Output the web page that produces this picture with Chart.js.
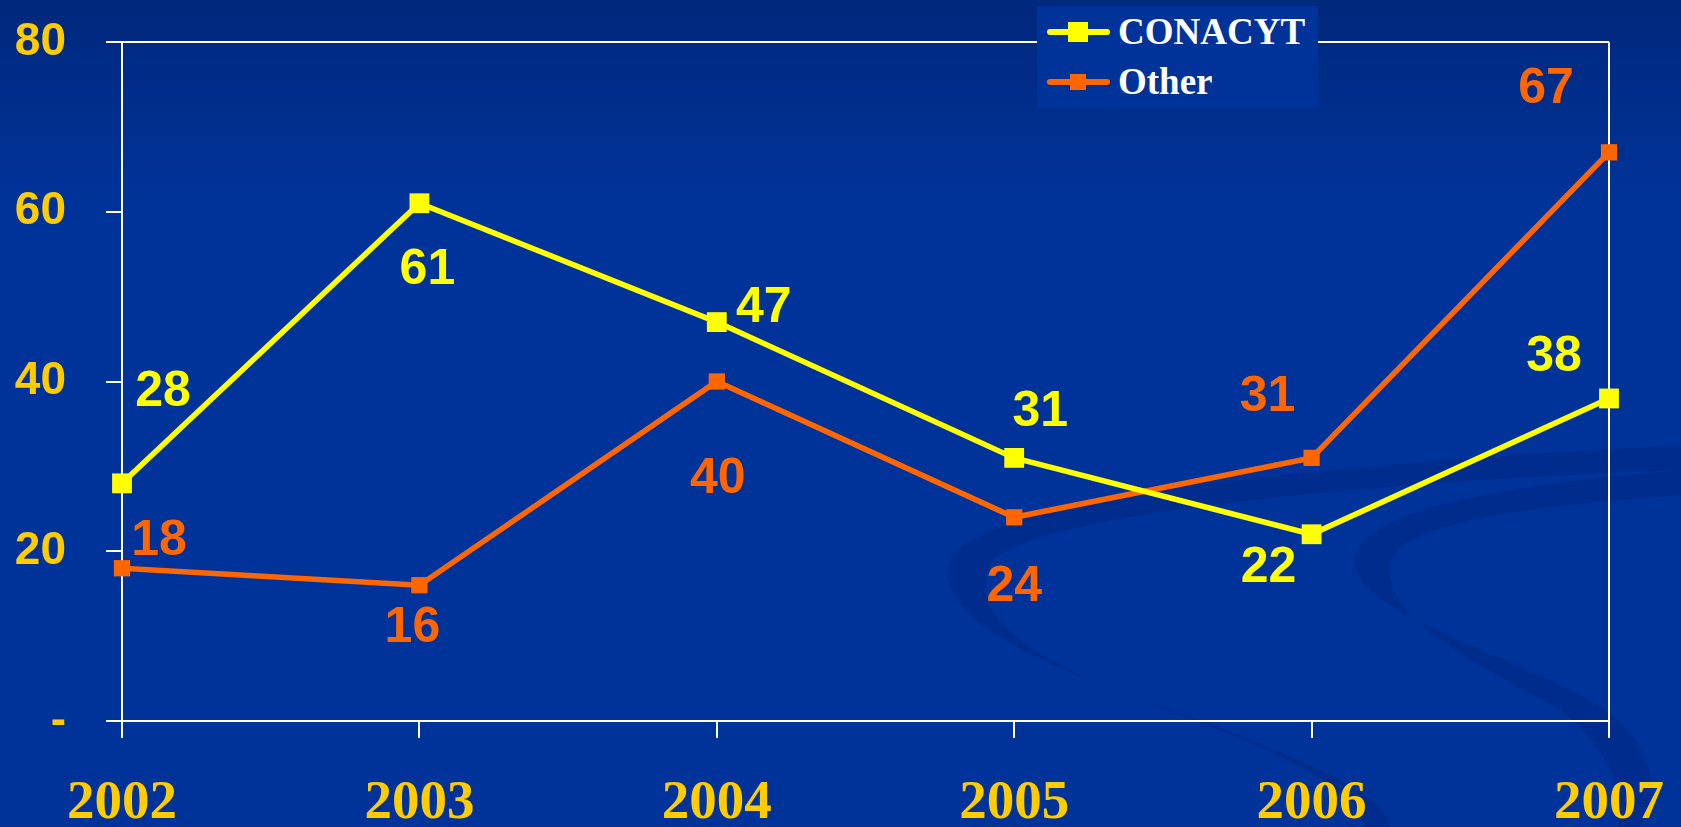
<!DOCTYPE html>
<html lang="en">
<head>
<meta charset="UTF-8" />
<title>CONACYT vs Other</title>
<style>
  html, body { margin: 0; padding: 0; }
  body { width: 1681px; height: 827px; overflow: hidden; background: #003399; }
  #wrap { position: relative; width: 1681px; height: 827px; }
  #legend {
    position: absolute; left: 1037px; top: 6px; width: 281px; height: 102px;
    background: #003399;
    font-family: "Liberation Serif", "Times New Roman", serif;
    font-weight: bold; font-size: 37px; color: #fff;
  }
  .item { position: absolute; left: 0; height: 50px; width: 281px; }
  .item .ln { position: absolute; left: 10px; top: 22px; width: 63px; height: 6px; border-radius: 3px; }
  .item .mk { position: absolute; }
  .item .tx { position: absolute; left: 81px; top: 3px; line-height: 44px; }
</style>
<script src="https://cdn.jsdelivr.net/npm/chart.js"></script>
</head>
<body>
<div id="wrap">
  <canvas id="chart" width="1681" height="827"></canvas>
  <div id="legend"></div>
</div>

<script>
  const years = ["2002", "2003", "2004", "2005", "2006", "2007"];
  const seriesNames = ["CONACYT", "Other"];
  const conacyt = [28, 61, 47, 31, 22, 38];
  const other = [18, 16, 40, 24, 31, 67];
  const yTicks = [0, 20, 40, 60, 80];

  const colors = ["#FFFF00", "#FF6600"];
  // where each value label sits relative to its point (px)
  const labelOffsets = [
    [[41, -91], [8, 67], [47, -14], [26, -46], [-43, 34], [-55, -41]],
    [[37, -27], [-7, 43], [1, 98], [0, 70], [-44, -61], [-63, -63]]
  ];

  // legend (html)
  const legend = document.getElementById("legend");
  seriesNames.forEach((name, i) => {
    const row = document.createElement("div");
    row.className = "item";
    row.style.top = (i * 50 + 1) + "px";
    const side = i === 0 ? 20 : 16;
    row.innerHTML =
      '<div class="ln" style="background:' + colors[i] + '"></div>' +
      '<div class="mk" style="background:' + colors[i] + ';width:' + side + 'px;height:' + side +
      'px;left:' + (41 - side / 2) + 'px;top:' + (25 - side / 2) + 'px"></div>' +
      '<div class="tx">' + name + '</div>';
    legend.appendChild(row);
  });

  const background = {
    id: "background",
    beforeDraw(chart) {
      const ctx = chart.ctx;
      ctx.save();
      const g = ctx.createLinearGradient(0, 0, 0, 200);
      g.addColorStop(0, "#00287c");
      g.addColorStop(1, "#003399");
      ctx.fillStyle = g;
      ctx.fillRect(0, 0, chart.width, chart.height);

      ctx.fillStyle = "rgba(0, 28, 110, 0.28)";
      // swoosh A
      ctx.beginPath();
      ctx.moveTo(1681, 445);
      ctx.bezierCurveTo(1300, 465, 980, 500, 950, 560);
      ctx.bezierCurveTo(930, 620, 1050, 670, 1200, 720);
      ctx.bezierCurveTo(1330, 770, 1390, 800, 1390, 827);
      ctx.lineTo(1365, 827);
      ctx.bezierCurveTo(1355, 790, 1300, 760, 1180, 715);
      ctx.bezierCurveTo(1040, 665, 965, 620, 990, 565);
      ctx.bezierCurveTo(1015, 520, 1300, 485, 1681, 470);
      ctx.closePath();
      ctx.fill();
      // swoosh B
      ctx.beginPath();
      ctx.moveTo(1681, 470);
      ctx.bezierCurveTo(1500, 485, 1360, 510, 1355, 560);
      ctx.bezierCurveTo(1350, 610, 1500, 650, 1590, 700);
      ctx.bezierCurveTo(1660, 740, 1660, 800, 1640, 827);
      ctx.lineTo(1618, 827);
      ctx.bezierCurveTo(1630, 790, 1600, 740, 1560, 710);
      ctx.bezierCurveTo(1470, 660, 1385, 620, 1390, 565);
      ctx.bezierCurveTo(1395, 520, 1550, 505, 1681, 495);
      ctx.closePath();
      ctx.fill();
      ctx.restore();
    }
  };

  const pointLabels = {
    id: "pointLabels",
    afterDatasetsDraw(chart) {
      const ctx = chart.ctx;
      ctx.save();
      ctx.font = 'bold 50px "Liberation Sans", Arial, sans-serif';
      ctx.textAlign = "center";
      ctx.textBaseline = "middle";
      chart.data.datasets.forEach((ds, i) => {
        chart.getDatasetMeta(i).data.forEach((pt, j) => {
          const off = labelOffsets[i][j];
          ctx.fillStyle = ds.borderColor;
          ctx.fillText(ds.data[j], pt.x + off[0], pt.y + off[1]);
        });
      });
      ctx.restore();
    }
  };

  new Chart(document.getElementById("chart"), {
    type: "line",
    data: {
      labels: years,
      datasets: [
        {
          label: seriesNames[0],
          data: conacyt,
          borderColor: colors[0],
          backgroundColor: colors[0],
          borderWidth: 5.5,
          pointStyle: "rect",
          pointRadius: 14,
          pointBorderWidth: 0,
          tension: 0,
          clip: false
        },
        {
          label: seriesNames[1],
          data: other,
          borderColor: colors[1],
          backgroundColor: colors[1],
          borderWidth: 5.5,
          pointStyle: "rect",
          pointRadius: 11.5,
          pointBorderWidth: 0,
          tension: 0,
          clip: false
        }
      ]
    },
    options: {
      responsive: false,
      animation: false,
      layout: { autoPadding: false, padding: { left: 0, top: 42, right: 72, bottom: 0 } },
      plugins: {
        legend: { display: false },
        tooltip: { enabled: false }
      },
      scales: {
        x: {
          offset: false,
          grid: {
            color: (c) => (c.index === years.length - 1 ? "#ffffff" : "transparent"),
            lineWidth: 2,
            tickColor: "#ffffff",
            tickLength: 17,
            tickWidth: 2
          },
          border: { color: "#ffffff", width: 2 },
          ticks: {
            color: "#FFCC00",
            font: { family: '"Liberation Serif", "Times New Roman", serif', weight: "bold", size: 55 },
            padding: 33,
            maxRotation: 0
          },
          afterFit: (s) => { s.height = 106; s.paddingLeft = 0; s.paddingRight = 0; }
        },
        y: {
          min: 0,
          max: 80,
          afterBuildTicks: (s) => { s.ticks = yTicks.map((v) => ({ value: v })); },
          grid: {
            color: (c) => (c.tick && c.tick.value === 80 ? "#ffffff" : "transparent"),
            lineWidth: 2,
            tickColor: "#ffffff",
            tickLength: 16,
            tickWidth: 2
          },
          border: { color: "#ffffff", width: 2 },
          ticks: {
            callback: (v) => (v === 0 ? "-" : v),
            color: "#FFCC00",
            font: { family: '"Liberation Sans", Arial, sans-serif', weight: "bold", size: 46 },
            padding: 40
          },
          afterFit: (s) => { s.width = 122; s.paddingTop = 0; s.paddingBottom = 0; }
        }
      }
    },
    plugins: [background, pointLabels]
  });
</script>
</body>
</html>
